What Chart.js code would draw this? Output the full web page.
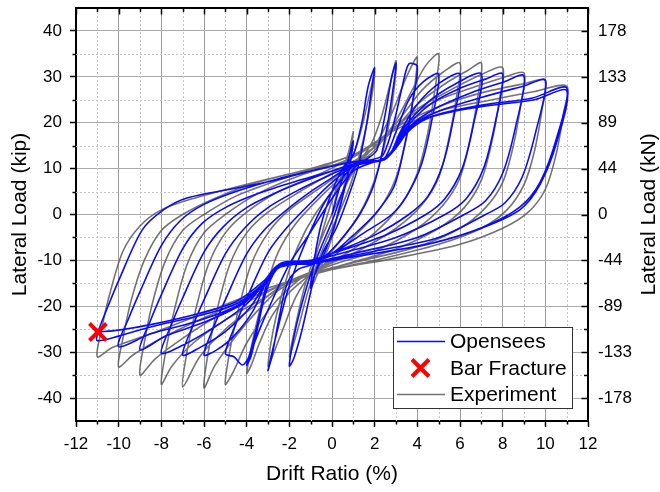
<!DOCTYPE html>
<html><head><meta charset="utf-8">
<script src="https://cdn.jsdelivr.net/npm/chart.js@4.4.1/dist/chart.umd.min.js"></script>
<style>html,body{margin:0;padding:0;background:#fff;}#wrap{width:660px;height:492px;}</style>
</head><body><div id="wrap"><canvas id="c" width="660" height="492"></canvas></div>
<script>
// ---------------- data ----------------
const xTicks = [-12,-10,-8,-6,-4,-2,0,2,4,6,8,10,12];
const xMinor = [-11,-9,-7,-5,-3,-1,1,3,5,7,9,11];
const yTicks = [-40,-30,-20,-10,0,10,20,30,40];
const yMinor = [-35,-25,-15,-5,5,15,25,35];
const kNLabels = ['-178','-133','-89','-44','0','44','89','133','178'];

// Opensees hysteresis path, one array per drift level (x = drift %, y = kip)
const opensees = [
 [[0,0],[0.3,5],[0.7,11],[1,16],[0.8,10],[0.4,2],[0,-4],[-0.4,-9],[-0.8,-13],[-1,-16]],
 [[-0.8,-9],[-0.5,-2],[0,5],[0.5,10],[1,13],[1.4,20],[1.7,28],[2,32],[1.85,27],[1.6,19],[1.2,10],[0.7,3],[0.2,-3],[-0.4,-8],[-0.8,-13],[-1.1,-19],[-1.45,-26],[-1.8,-31.5],[-2,-33]],
 [[-1.8,-27],[-1.5,-21],[-1,-13],[-0.5,-7],[0,-1.5],[0.5,5],[1,10],[1.6,12],[2.1,14],[2.5,22],[2.8,30],[3,33],[2.85,27],[2.5,17],[2,7],[1.3,0],[0.5,-5],[-0.3,-9],[-1,-11],[-1.6,-12],[-2.1,-15],[-2.5,-23],[-2.8,-30.5],[-3,-34]],
 [[-2.6,-26],[-2.1,-17],[-1.5,-9],[-1,-3.5],[-0.3,3],[0.5,8],[1.2,11.5],[1.9,12],[2.4,13],[2.9,20],[3.3,28],[3.6,32.8],[4,32.3],[3.8,25],[3.4,15],[2.9,6],[2,0],[1,-4.5],[0,-8.5],[-1,-10.5],[-2,-11],[-2.6,-12],[-3.1,-17],[-3.5,-25],[-3.8,-31],[-4,-32.8]],
 [[-3.5,-26.3],[-3,-20.8],[-2,-10.8],[-1.1,-4.5],[0,3.5],[1,9.5],[2,11.5],[2.5,12.5],[3,18],[3.6,25],[4.3,29],[5,30.6],[4.7,21],[4.2,11],[3.5,4],[2.8,0],[1.5,-4],[0,-8.5],[-1,-10.5],[-2.4,-11],[-3,-14.5],[-3.5,-24],[-3.9,-31],[-4.2,-32.8],[-4.6,-31],[-5,-30.3]],
 [[-4.5,-23.8],[-4,-18.3],[-3,-8.3],[-2.1,-2.8],[-1,2.5],[0,7],[1,10.5],[2.2,11.8],[2.7,13],[3.2,18],[4,24],[5,28.5],[6,30.6],[5.7,21],[5.2,11],[4.5,4],[3.6,0],[2,-4.5],[0,-8.5],[-1,-10.3],[-2.4,-11],[-3,-14],[-3.7,-21],[-4.6,-26.5],[-5.4,-29.5],[-6,-30.6]],
 [[-5.5,-24],[-5,-18.6],[-4,-8.6],[-3.1,-3],[-2,1.5],[-1,5],[0,8],[1,10.8],[2.2,11.8],[2.8,13.5],[3.4,19],[4.5,24.5],[5.8,28.5],[7,30.6],[6.65,20],[6.1,10],[5.3,3.5],[4.4,0],[2.5,-4.5],[0,-8.5],[-1,-10],[-2.4,-10.6],[-3,-14],[-3.8,-20],[-5,-25.5],[-6.2,-29],[-7,-30.6]],
 [[-6.5,-24],[-6,-18.6],[-5,-8.6],[-4.1,-3],[-3,1.5],[-1.5,5.5],[0,8.8],[1,10.8],[2.2,11.8],[2.8,13.5],[3.5,19],[4.6,24],[6,27.5],[7.2,29.5],[8,30.6],[7.65,20],[7.1,10],[6.3,3.5],[5.3,0],[3,-5],[0,-9],[-1,-10.3],[-2.4,-10.8],[-3,-14],[-4,-19.5],[-5.5,-24.5],[-7,-28.5],[-8,-30.2]],
 [[-7.5,-23.7],[-7,-18.2],[-6,-8.2],[-5.1,-2.7],[-4,1.5],[-2.5,5],[-1,7.8],[0,9.5],[1,11],[2.3,11.8],[2.9,14],[3.6,19],[4.8,23],[6.5,26.5],[8,28.8],[9,30.2],[8.6,19],[8,9],[7.2,3],[6.2,0],[4,-5],[1,-8.5],[-1,-10.5],[-2.4,-11],[-3,-14.5],[-4.2,-19.5],[-6,-23.5],[-7.8,-26.5],[-9,-29.5]],
 [[-8.5,-23],[-8,-17.5],[-7,-7.5],[-6.1,-2],[-5,1.5],[-3.5,4.5],[-1.5,7.5],[0,9.5],[1,11],[2.4,11.8],[3,14.5],[3.8,19.5],[5,22.5],[7,25.5],[9,28],[10,29.2],[9.55,18],[8.9,8],[8.1,2.5],[7.2,0],[5,-5],[2,-8],[-1,-10.5],[-2.4,-11],[-3.1,-15],[-4.5,-20],[-6.5,-23.5],[-8.5,-26],[-10,-28.8]],
 [[-9.5,-22.3],[-9,-16.8],[-8,-6.8],[-7.1,-1.3],[-6,2.2],[-4.5,5],[-2.5,7.8],[-0.5,10],[1,11.5],[2.4,12],[3.2,16.2],[4.1,20.2],[5.2,22.1],[7.1,23.9],[9.4,25.4],[11,27.6],[10.55,17],[9.75,7],[8.8,1.6],[7.1,-2.7],[4.7,-6.2],[2,-8.5],[0,-10],[-1,-10.8],[-2.5,-11.2],[-3.2,-15],[-4.5,-19.5],[-6.2,-22],[-8.5,-24.5],[-10,-26.5],[-11,-27.5]],
 [[-11,-26],[-10.5,-20],[-10,-14.4],[-8.9,-3.4],[-7.9,1],[-6.8,3.6],[-4.2,6],[-2.6,7.5],[-1,9.5],[0.5,11],[1.5,11.8],[2.5,12],[3.3,17],[4.5,21],[7,23.5],[9.5,25],[11,27],[10.55,16],[9.75,6.5],[8.8,1],[7,-3],[4.5,-6.5],[2,-8.5],[0,-10],[-1,-10.5],[-2.5,-11],[-3.2,-14.5],[-4.5,-19],[-6.2,-21.5],[-8.5,-24],[-10,-25.2],[-11,-25.6]]
];

// Experiment hysteresis path, one array per drift level
const experiment = [
 [[0,0],[0.4,8],[0.8,14],[1,18],[0.7,9],[0.3,1],[0,-5],[-0.5,-11],[-1,-16]],
 [[-0.8,-10],[-0.4,-3],[0,3],[0.5,9],[1,13],[1.4,19],[1.8,27],[2,31],[1.8,24],[1.4,15],[0.9,7],[0.3,0],[-0.3,-6],[-0.8,-12],[-1.2,-18],[-1.6,-25],[-2,-31]],
 [[-1.7,-24],[-1.3,-16],[-0.8,-9],[-0.2,-2],[0.5,5],[1.2,11],[1.8,15],[2.3,21],[2.7,28],[3,33.5],[2.9,27],[2.6,18],[2.1,9],[1.5,2],[0.7,-4],[-0.2,-9],[-1,-13],[-1.7,-18],[-2.3,-25],[-2.8,-31],[-3,-33]],
 [[-2.7,-24],[-2.2,-15],[-1.6,-7],[-0.8,0],[0.2,6],[1.2,11],[2,15],[2.8,22],[3.4,29],[3.8,33],[4,34.3],[3.85,27],[3.5,17],[3,8],[2.2,1],[1,-5],[0,-9.5],[-1,-13],[-2,-17],[-2.8,-22],[-3.4,-28],[-3.8,-33],[-4,-34.6]],
 [[-3.6,-25],[-3.1,-16],[-2.5,-8],[-1.7,-2],[-0.5,4],[0.8,9.5],[2,14],[3,20.5],[3.8,27.5],[4.4,32.5],[5,35],[4.85,28],[4.5,18],[4,9],[3.2,2],[2,-4],[0.5,-9],[-1,-12.5],[-2,-16],[-3,-21],[-4,-28],[-4.6,-34],[-5,-37]],
 [[-4.8,-30],[-4.4,-21],[-3.8,-11],[-3,-4],[-2,1],[-0.5,6],[1,11],[2.2,15.5],[3.2,21],[4.2,27],[5.2,31],[6,33],[5.85,26],[5.5,17],[5,8],[4.2,2],[3,-3],[1,-8.5],[-1,-12.5],[-2.5,-16.5],[-3.5,-21],[-4.5,-26.5],[-5.5,-33],[-6,-37.8]],
 [[-5.8,-30],[-5.4,-21],[-4.8,-11],[-4,-4],[-3,0.5],[-1.5,5],[0,9],[1.5,13],[2.8,18],[4,24],[5.3,28.5],[6.4,31.5],[7,33],[6.85,26],[6.5,17],[6,8],[5.2,2],[4,-3],[2,-8],[0,-11],[-2,-14.5],[-3.5,-19.5],[-5,-25],[-6.2,-31],[-7,-37.6]],
 [[-6.8,-30],[-6.4,-21],[-5.8,-11],[-5,-4],[-4,0.5],[-2.5,5],[-0.5,9],[1,12.5],[2.5,17],[4,23],[5.5,27],[7,30.5],[8,32],[7.85,25],[7.5,16],[7,7.5],[6.2,1.5],[5,-3],[3,-7.5],[0.5,-11],[-1.5,-14],[-3.5,-19],[-5,-23],[-6.5,-28],[-7.5,-33],[-8,-37]],
 [[-7.8,-30],[-7.4,-21],[-6.8,-11],[-6,-4],[-5,0],[-3.5,4.5],[-1.5,8.5],[0.5,11.5],[2,15.5],[3.5,21],[5,25],[6.5,27.5],[8,29.8],[9,30.8],[8.85,24],[8.5,15],[8,7],[7.2,1.5],[6,-3],[4,-7],[1,-10.5],[-1.5,-13.5],[-3.5,-18],[-5.5,-22.5],[-7,-27],[-8.3,-31.5],[-9,-35]],
 [[-8.8,-28],[-8.4,-19],[-7.8,-10],[-7,-3.5],[-6,0],[-4.5,4],[-2.5,7.5],[-0.5,10.5],[1.5,14],[3,19],[5,23.5],[7,26.5],[9,28.5],[10,29.3],[9.85,23],[9.5,14],[9,6.5],[8.2,1],[7,-3],[5,-6.5],[2,-10],[-1,-13],[-3.5,-17.5],[-6,-22.5],[-8,-27],[-9.3,-30.5],[-10,-33.2]],
 [[-9.8,-27],[-9.4,-18.5],[-8.8,-10],[-8,-3.5],[-7,0],[-5.5,3.5],[-3.5,7],[-1,10],[1,13],[3,18.5],[5,22.5],[7.5,25],[9.5,26.8],[11,28],[10.85,22],[10.5,13],[10,5.5],[9.2,0.5],[8,-3],[6,-6.5],[3,-9.5],[0,-12],[-3,-16],[-6,-21.5],[-8.5,-26],[-10.3,-29],[-11,-31]],
 [[-10.8,-25],[-10.4,-17],[-9.8,-8],[-9,-2.5],[-8,1],[-6.5,3.5],[-4.5,6],[-2.5,8.3],[-0.5,10.3],[0.8,11.5]]
];

const fracture = [[-10.97,-25.6]];

// ---------------- chart ----------------
const FONT = "'Liberation Sans', Arial, Helvetica, sans-serif";
const toXY = loops => loops.flat().map(p => ({x: p[0], y: p[1]}));
const BLUE = '#0a0aff';
const GRAY = 'rgba(90,90,90,0.85)';

const labelsOrder = ['Opensees', 'Bar Fracture', 'Experiment'];

const framePlugin = {
  id: 'framePlugin',
  beforeDatasetsDraw(chart) {
    const {ctx, chartArea: a, scales} = chart;
    ctx.save();
    ctx.strokeStyle = '#c6c6c6';
    ctx.lineWidth = 1;
    ctx.setLineDash([2, 2]);
    xMinor.forEach(v => {
      const px = Math.round(scales.x.getPixelForValue(v)) + 0.5;
      ctx.beginPath(); ctx.moveTo(px, a.top); ctx.lineTo(px, a.bottom); ctx.stroke();
    });
    yMinor.forEach(v => {
      const py = Math.round(scales.y.getPixelForValue(v)) + 0.5;
      ctx.beginPath(); ctx.moveTo(a.left, py); ctx.lineTo(a.right, py); ctx.stroke();
    });
    ctx.restore();
  },
  afterDatasetsDraw(chart) {
    const {ctx, chartArea: a, scales} = chart;
    ctx.save();
    ctx.strokeStyle = '#000';
    ctx.lineWidth = 1.5;
    xMinor.forEach(v => {
      const px = Math.round(scales.x.getPixelForValue(v)) + 0.5;
      ctx.beginPath(); ctx.moveTo(px, a.bottom); ctx.lineTo(px, a.bottom + 3.5); ctx.stroke();
    });
    yMinor.forEach(v => {
      const py = Math.round(scales.y.getPixelForValue(v)) + 0.5;
      ctx.beginPath(); ctx.moveTo(a.left, py); ctx.lineTo(a.left - 3.5, py); ctx.stroke();
    });
    xTicks.forEach(v => {
      const px = Math.round(scales.x.getPixelForValue(v)) + 0.5;
      ctx.beginPath(); ctx.moveTo(px, a.top); ctx.lineTo(px, a.top + 6.5); ctx.stroke();
    });
    xMinor.forEach(v => {
      const px = Math.round(scales.x.getPixelForValue(v)) + 0.5;
      ctx.beginPath(); ctx.moveTo(px, a.top); ctx.lineTo(px, a.top + 4); ctx.stroke();
    });
    yTicks.forEach(v => {
      const py = Math.round(scales.y.getPixelForValue(v)) + 0.5;
      ctx.beginPath(); ctx.moveTo(a.right, py); ctx.lineTo(a.right - 6.5, py); ctx.stroke();
    });
    yMinor.forEach(v => {
      const py = Math.round(scales.y.getPixelForValue(v)) + 0.5;
      ctx.beginPath(); ctx.moveTo(a.right, py); ctx.lineTo(a.right - 4, py); ctx.stroke();
    });
    ctx.lineWidth = 2;
    ctx.beginPath(); ctx.moveTo(a.left - 1, a.top); ctx.lineTo(a.right + 1, a.top); ctx.stroke();
    ctx.restore();
  },
  afterDraw(chart) {
    const {ctx, chartArea: a} = chart;
    const ds = chart.data.datasets;
    const byLabel = l => ds.find(d => d.label === l);
    ctx.save();
    ctx.translate(649, (a.top + a.bottom) / 2);
    ctx.rotate(-Math.PI / 2);
    ctx.fillStyle = '#000';
    ctx.font = '21px ' + FONT;
    ctx.textAlign = 'center';
    ctx.textBaseline = 'middle';
    ctx.fillText('Lateral Load (kN)', 0, 0);
    ctx.restore();

    ctx.save();
    const bx = 393.5, by = 327.5, bw = 179, bh = 81;
    ctx.fillStyle = '#fff';
    ctx.fillRect(bx, by, bw, bh);
    ctx.strokeStyle = '#333';
    ctx.lineWidth = 1;
    ctx.strokeRect(bx, by, bw, bh);
    const rows = [341, 368, 394];
    ctx.font = '21px ' + FONT;
    ctx.textAlign = 'left';
    ctx.textBaseline = 'middle';
    labelsOrder.forEach((lab, i) => {
      const d = byLabel(lab);
      const y = rows[i];
      if (d.showLine) {
        ctx.strokeStyle = d.borderColor;
        ctx.lineWidth = 1.6;
        ctx.beginPath(); ctx.moveTo(397, y + 0.5); ctx.lineTo(445, y + 0.5); ctx.stroke();
      } else {
        ctx.strokeStyle = d.pointBorderColor;
        ctx.lineWidth = 4;
        const cx = 420.5, r = 8.5;
        ctx.beginPath();
        ctx.moveTo(cx - r, y - r); ctx.lineTo(cx + r, y + r);
        ctx.moveTo(cx + r, y - r); ctx.lineTo(cx - r, y + r);
        ctx.stroke();
      }
      ctx.fillStyle = '#000';
      ctx.fillText(lab, 450, y + 1);
    });
    ctx.restore();
  }
};

new Chart(document.getElementById('c'), {
  type: 'scatter',
  data: {
    datasets: [
      {label: 'Bar Fracture', data: fracture.map(p => ({x: p[0], y: p[1]})), showLine: false,
       pointStyle: 'crossRot', pointRadius: 12, pointBorderWidth: 4, pointBorderColor: '#ff0000',
       pointBackgroundColor: '#ff0000', pointHoverRadius: 12, clip: false},
      {label: 'Opensees', data: toXY(opensees), showLine: true, borderColor: BLUE, borderWidth: 1.6,
       pointRadius: 0, tension: 0.3, fill: false},
      {label: 'Experiment', data: toXY(experiment), showLine: true, borderColor: GRAY, borderWidth: 1.6,
       pointRadius: 0, tension: 0.3, fill: false}
    ]
  },
  options: {
    responsive: false,
    animation: false,
    devicePixelRatio: 1,
    layout: {autoPadding: false, padding: {top: 8, left: 0, right: 0, bottom: 0}},
    plugins: {legend: {display: false}, tooltip: {enabled: false}},
    scales: {
      x: {
        type: 'linear', position: 'bottom', min: -12, max: 12,
        afterBuildTicks: s => { s.ticks = xTicks.map(v => ({value: v})); },
        afterFit: s => { s.height = 71; s.paddingLeft = 0; s.paddingRight = 0; },
        grid: {color: '#9a9a9a', lineWidth: 1, drawTicks: true, tickLength: 6, tickColor: '#000', tickWidth: 1.5},
        border: {display: true, color: '#000', width: 2},
        ticks: {font: {family: FONT, size: 17}, color: '#000', padding: 7, maxRotation: 0, autoSkip: false},
        title: {display: true, text: 'Drift Ratio (%)', font: {family: FONT, size: 21}, color: '#000', padding: {top: 0, bottom: 5}}
      },
      y: {
        type: 'linear', position: 'left', min: -45, max: 45,
        afterBuildTicks: s => { s.ticks = yTicks.map(v => ({value: v})); },
        afterFit: s => { s.width = 76; s.paddingTop = 0; s.paddingBottom = 0; },
        grid: {color: '#ababab', lineWidth: 1, drawTicks: true, tickLength: 6, tickColor: '#000', tickWidth: 1.5},
        border: {display: true, color: '#000', width: 2},
        ticks: {font: {family: FONT, size: 17}, color: '#000', padding: 8, autoSkip: false},
        title: {display: true, text: 'Lateral Load (kip)', font: {family: FONT, size: 21}, color: '#000', padding: {top: 8, bottom: 0}}
      },
      y2: {
        type: 'linear', position: 'right', min: -45, max: 45,
        afterBuildTicks: s => { s.ticks = yTicks.map(v => ({value: v})); },
        afterFit: s => { s.width = 72; s.paddingTop = 0; s.paddingBottom = 0; },
        grid: {drawOnChartArea: false, drawTicks: false},
        border: {display: true, color: '#000', width: 2},
        ticks: {font: {family: FONT, size: 17}, color: '#000', padding: 10, autoSkip: false,
                callback: v => kNLabels[yTicks.indexOf(v)]}
      }
    }
  },
  plugins: [framePlugin]
});
</script></body></html>
